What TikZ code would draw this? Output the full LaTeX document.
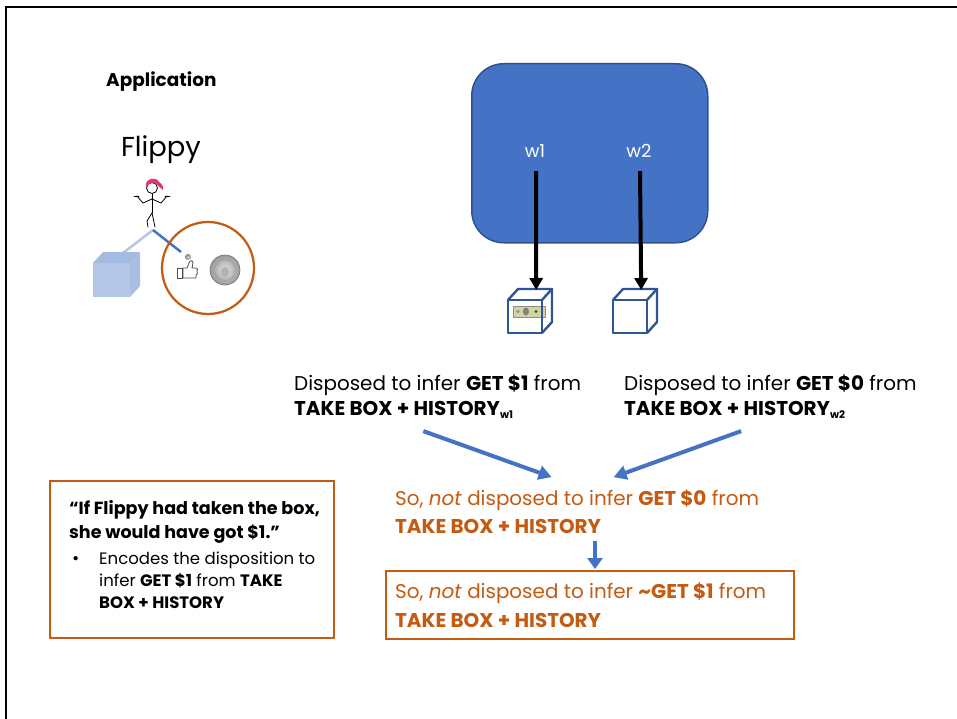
\documentclass[tikz,border=0pt]{standalone}
\usepackage{fontspec}
\setmainfont{Poppins}
\usetikzlibrary{arrows.meta,calc}
\definecolor{rust}{HTML}{C55A11}
\definecolor{slate}{HTML}{4472C4}
\definecolor{slateedge}{HTML}{2F528F}
\definecolor{boxblue}{HTML}{2F5597}
\definecolor{pale}{HTML}{B4C7E7}
\definecolor{hair}{HTML}{E6336F}
\newcommand\sub[1]{\raisebox{-0.35ex}{\fontsize{10.5}{10.5}\selectfont #1}}
% multi-line nodes are placed by the baseline of their last line
\tikzset{
  txt/.style={inner sep=0pt, anchor=base west, align=left, font=\fontsize{20}{24}\selectfont},
  orangetxt/.style={txt, text=rust, font=\fontsize{20}{28}\selectfont},
  notetxt/.style={inner sep=0pt, anchor=base west, align=left, font=\fontsize{17.6}{23.5}\selectfont},
  frameline/.style={draw=rust, line width=2bp, inner sep=0pt, anchor=north west},
  blackarrow/.style={line width=4bp, -{Triangle[length=12bp,width=13bp]}},
  bluearrow/.style={draw=slate, line width=4bp, -{Triangle[length=13bp,width=14bp]}},
  cubeline/.style={draw=boxblue, line width=2.4bp, line join=round},
}
\begin{document}
\begin{tikzpicture}[x=1bp,y=-1bp]
\useasboundingbox (0,0) rectangle (957,719);
\fill[white] (0,0) rectangle (957,719);
% slide frame
\draw[line width=2.6bp] (6,719) -- (6,7) -- (957,7);

% heading and character
\node[inner sep=0pt, anchor=base west, font=\fontsize{18.5}{18.5}\selectfont\bfseries] (app) at (106,87) {Application};
\node[inner sep=0pt, anchor=base, font=\fontsize{27.5}{27.5}\selectfont] (flippy) at (161,157) {Flippy};

% stick figure
\coordinate (foot) at (153,230);
\draw[pale, line width=2.5bp] (foot) -- (123,253);
\draw[slate, line width=2.5bp] (foot) -- (181,252);
\begin{scope}[black, line width=0.8bp, line cap=round]
  \draw (152,188) circle (5.5);
  \draw (152,194) -- (152,213);
  \draw (152,213) -- (147,221) -- (148,227);
  \draw (152,213) -- (155,227);
  \draw (152,199) -- (143,203) -- (137,196);
  \draw (152,199) -- (161,203) -- (167,196);
  \draw (134,196) -- (139,196); \draw (165,196) -- (170,196);
\end{scope}
\fill[hair] (146,186) .. controls (145,178) and (156,176) .. (159,182)
  .. controls (162,184) and (164,187) .. (163,190)
  .. controls (161,188) and (158,186) .. (156,184)
  .. controls (152,182) and (149,183) .. (147,187) -- cycle;

% pale box the figure does not take
\begin{scope}[shift={(93,263)}]
  \fill[pale] (0,0) rectangle (37,34);
  \fill[pale!85!slate] (0,0) -- (10,-11) -- (47,-11) -- (37,0) -- cycle;
  \fill[pale!90!slate] (37,0) -- (47,-11) -- (47,23) -- (37,34) -- cycle;
\end{scope}

% the choice that was taken: a thumbs-up with a flipped coin, and the coin
\draw[rust, line width=2.2bp] (208,268) circle (46);
\begin{scope}[draw=black!70, line width=0.8bp, line join=round]
  \draw (177,268) rectangle (182,278);
  \draw (183,268) -- (187,268) -- (189,263) .. controls (190,260) and (193,260) .. (193,263)
        -- (192,268) -- (196,268) .. controls (198,268) and (198,270) .. (197,271)
        .. controls (198,273) and (197,275) .. (196,275) -- (196,278) -- (183,278) -- cycle;
\end{scope}
\shade[inner color=black!15, outer color=black!50] (188,257) circle (3);
\shade[inner color=black!10, outer color=black!40] (225,270) circle (15);
\draw[black!55, line width=0.6bp] (225,270) circle (15);
\draw[black!40, line width=0.5bp] (225,270) circle (10.5);
\fill[black!30] (225,272) ellipse (4 and 5);

% worlds
\node[draw=slateedge, fill=slate, line width=1.5bp, rounded corners=32bp, minimum width=236bp, minimum height=179bp, anchor=north west, inner sep=0pt] (worlds) at (471,63) {};
\node[inner sep=0pt, anchor=base, text=white, font=\fontsize{18}{18}\selectfont] (w1) at (535,158) {w1};
\node[inner sep=0pt, anchor=base, text=white, font=\fontsize{18}{18}\selectfont] (w2) at (639,158) {w2};

% boxes reached in each world
\node[inner sep=0pt, minimum width=44bp, minimum height=45bp, anchor=north west] (box1) at (508,288) {};
\node[inner sep=0pt, minimum width=44bp, minimum height=45bp, anchor=north west] (box2) at (613,288) {};
\begin{scope}[shift={(508,300)}]
  \fill[black!25!olive!30] (5,6) rectangle (37,17);
  \draw[black!45, line width=0.4bp] (5,6) rectangle (37,17);
  \fill[black!50] (18,11.5) ellipse (3 and 4);
  \fill[green!50!black] (28,11.5) circle (1.6);
  \fill[black!40] (10,11.5) circle (1.8);
  \draw[cubeline] (0,0) rectangle (34,33);
  \draw[cubeline] (0,0) -- (10,-11) -- (44,-11) -- (34,0);
  \draw[cubeline] (34,33) -- (44,22) -- (44,-11);
\end{scope}
\begin{scope}[shift={(613,300)}]
  \draw[cubeline] (0,0) rectangle (34,33);
  \draw[cubeline] (0,0) -- (10,-11) -- (44,-11) -- (34,0);
  \draw[cubeline] (34,33) -- (44,22) -- (44,-11);
\end{scope}
\draw[blackarrow] ($(w1.south)+(1,13)$) -- ($(box1.north)+(6,2)$);
\draw[blackarrow] ($(w2.south)+(1,13)$) -- ($(box2.north)+(6,2)$);

% what each world disposes
\node[txt, font=\fontsize{20}{25}\selectfont] (d1) at (294,415) {Disposed to infer \textbf{GET \$1} from\\\textbf{TAKE BOX + HISTORY\sub{w1}}};
\node[txt, font=\fontsize{20}{25}\selectfont] (d2) at (624,415) {Disposed to infer \textbf{GET \$0} from\\\textbf{TAKE BOX + HISTORY\sub{w2}}};

% conclusions
\node[orangetxt] (c0) at (395,533) {So, \textit{not} disposed to infer \textbf{GET \$0} from\\\textbf{TAKE BOX + HISTORY}};
\node[frameline, minimum width=408bp, minimum height=68bp] (c1box) at (385,570) {};
\node[orangetxt, font=\fontsize{20}{29}\selectfont] (c1) at (395,627) {So, \textit{not} disposed to infer \textbf{\textasciitilde GET \$1} from\\\textbf{TAKE BOX + HISTORY}};

\draw[bluearrow] ($(d1.south west)!0.45!(d1.south east)+(0,12)$) -- ($(c0.north west)!0.43!(c0.north east)+(0,-12)$);
\draw[bluearrow] ($(d2.south west)!0.4!(d2.south east)+(0,12)$) -- ($(c0.north west)!0.6!(c0.north east)+(0,-12)$);
\draw[bluearrow, -{Triangle[length=11bp,width=15bp]}] ($(c0.south -| c1box.north)+(5,8)$) -- ($(c1box.north)+(5,-1)$);

% the counterfactual
\node[frameline, minimum width=284bp, minimum height=157bp] (note) at (49,480) {};
\node[notetxt] (q) at (69,538) {\textbf{“If Flippy had taken the box,}\\\textbf{she would have got \$1.”}};
\node[notetxt] (dot) at (72,564) {•};
\node[notetxt, font=\fontsize{16.6}{22}\selectfont] (enc) at (99,608) {Encodes the disposition to\\infer \textbf{GET \$1} from \textbf{TAKE}\\\textbf{BOX + HISTORY}};
\end{tikzpicture}
\end{document}
